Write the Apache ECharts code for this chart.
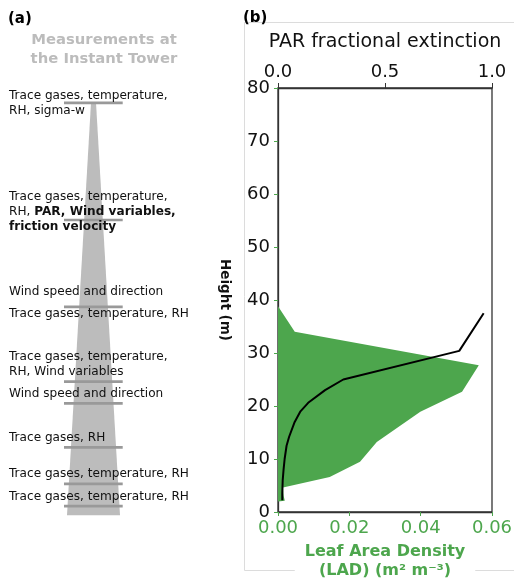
<!DOCTYPE html>
<html>
<head>
<meta charset="utf-8">
<script src="https://cdn.jsdelivr.net/npm/echarts@6/dist/echarts.min.js"></script>
<style>
html,body{margin:0;padding:0;background:#fff;}
#c{width:514px;height:581px;}
</style>
</head>
<body>
<div id="c"></div>
<script>
// ---- data ----
// LAD profile (leaf area density, m2 m-3) vs height (m), traced from top to bottom
const ladHeights = [38.8, 34.0, 27.7, 22.7, 18.9, 13.2, 9.5, 6.6, 4.6, 3.0, 2.1, 2.0];
const ladValues  = [0, 0.0047, 0.0563, 0.0516, 0.0399, 0.0277, 0.0230, 0.0145, 0.0014, 0.0016, 0.0019, 0];
// PAR fractional extinction vs height (m)
const parHeights = [2.2, 3.5, 6, 8, 10, 12.5, 14.2, 17, 19, 20.6, 23, 25, 30.4, 37.5];
const parValues  = [0.02, 0.02, 0.022, 0.026, 0.031, 0.04, 0.052, 0.078, 0.105, 0.141, 0.22, 0.305, 0.847, 0.961];
// tower measurement levels (m)
const levelHeights = [77.2, 55.1, 38.7, 24.6, 20.5, 12.2, 5.3, 1.1];
const towerTop = 77.2, towerBase = -0.6;
// labels of the tower panel and the height (m) of their first line
const labelHeights = [78.5, 59.4, 41.5, 37.3, 29.2, 22.3, 14.0, 7.2, 2.8];
const labelTexts = [
  '{n|Trace gases, temperature,}\n{n|RH, sigma-w}',
  '{n|Trace gases, temperature,}\n{n|RH, }{b|PAR, Wind variables,}\n{b|friction velocity}',
  '{n|Wind speed and direction}',
  '{n|Trace gases, temperature, RH}',
  '{n|Trace gases, temperature,}\n{n|RH, Wind variables}',
  '{n|Wind speed and direction}',
  '{n|Trace gases, RH}',
  '{n|Trace gases, temperature, RH}',
  '{n|Trace gases, temperature, RH}'
];
const ladTicks = [0, 0.02, 0.04, 0.06];
const parTicks = [0, 0.5, 1.0];

// ---- style ----
const FONT = 'DejaVu Sans';
const GREEN = '#4da64d';
const SPINE = '#333';

const chart = echarts.init(document.getElementById('c'), null, {renderer: 'canvas'});

const option = {
  backgroundColor: '#fff',
  animation: false,
  textStyle: {fontFamily: FONT},
  graphic: [
    {type: 'rect', z: -10, shape: {x: 244.5, y: 22.5, width: 300, height: 548}, style: {fill: null, stroke: '#dcdcdc', lineWidth: 1}},
    {type: 'text', left: 8, top: 12, style: {text: '(a)', font: 'bold 15px ' + FONT, fill: '#000'}},
    {type: 'text', left: 243, top: 11, z: 5, style: {text: '(b)', font: 'bold 15px ' + FONT, fill: '#000'}},
    {type: 'text', x: 104, y: 31, style: {text: 'Measurements at\nthe Instant Tower', font: 'bold 14.8px ' + FONT, fill: '#bcbcbc', align: 'center', verticalAlign: 'top', lineHeight: 19}}
  ],
  grid: [
    {left: 0, top: 88, width: 240, height: 424, outerBoundsMode: 'none', containLabel: false},
    {left: 278, top: 88, width: 214, height: 424, outerBoundsMode: 'none', containLabel: false,
      show: true, borderColor: SPINE, borderWidth: 1.3, backgroundColor: 'transparent'}
  ],
  xAxis: [
    {gridIndex: 0, type: 'value', min: 0, max: 240, show: false},
    {gridIndex: 1, type: 'value', position: 'bottom', min: 0, max: 0.06, interval: 0.02,
      axisLine: {show: true, lineStyle: {color: SPINE, width: 1.3}},
      axisTick: {show: true, length: 4, lineStyle: {color: GREEN}},
      axisLabel: {color: GREEN, fontSize: 18, margin: 7, fontFamily: FONT,
        formatter: v => ladTicks.indexOf(+v.toFixed(2)) >= 0 ? v.toFixed(2) : ''},
      splitLine: {show: false},
      name: 'Leaf Area Density\n(LAD) (m\u00B2 m\u207B\u00B3)', nameLocation: 'middle', nameGap: 30,
      nameTextStyle: {color: GREEN, fontWeight: 'bold', fontSize: 16, lineHeight: 19, fontFamily: FONT,
        backgroundColor: '#fff', padding: [0, 10, 6, 10]}
    },
    {gridIndex: 1, type: 'value', position: 'top', min: 0, max: 1, interval: 0.5,
      axisLine: {show: true, lineStyle: {color: SPINE, width: 1.3}},
      axisTick: {show: true, length: 5, lineStyle: {color: SPINE}},
      axisLabel: {color: '#111', fontSize: 18, margin: 7, fontFamily: FONT,
        formatter: v => parTicks.indexOf(+v.toFixed(1)) >= 0 ? v.toFixed(1) : ''},
      splitLine: {show: false},
      name: 'PAR fractional extinction', nameLocation: 'middle', nameGap: 36,
      nameTextStyle: {color: '#111', fontSize: 19, fontFamily: FONT}
    }
  ],
  yAxis: [
    {gridIndex: 0, type: 'value', min: 0, max: 80, show: false},
    {gridIndex: 1, type: 'value', min: 0, max: 80, interval: 10,
      axisLine: {show: true, lineStyle: {color: SPINE, width: 1.3}},
      axisTick: {show: true, length: 4, lineStyle: {color: GREEN}},
      axisLabel: {color: '#111', fontSize: 18, margin: 8, fontFamily: FONT},
      splitLine: {show: false},
      name: 'Height (m)', nameLocation: 'middle', nameRotate: -90, nameGap: 47,
      nameTextStyle: {color: '#111', fontWeight: 'bold', fontSize: 13.5, fontFamily: FONT}
    }
  ],
  series: [
    // tower body
    {type: 'custom', xAxisIndex: 0, yAxisIndex: 0, z: 1,
      data: [[towerTop, towerBase]],
      renderItem: (params, api) => {
        const top = api.value(0), base = api.value(1);
        const p1 = api.coord([91, top]), p2 = api.coord([96, top]);
        const p3 = api.coord([120, base]), p4 = api.coord([67, base]);
        return {type: 'polygon', shape: {points: [p1, p2, p3, p4]}, style: {fill: '#bcbcbc'}};
      }
    },
    // measurement level bars
    {type: 'custom', xAxisIndex: 0, yAxisIndex: 0, z: 2,
      data: levelHeights.map(h => [64, h]),
      renderItem: (params, api) => {
        const a = api.coord([64, api.value(1)]);
        const b = api.coord([122.7, api.value(1)]);
        return {type: 'rect', shape: {x: a[0], y: a[1] - 1.3, width: b[0] - a[0], height: 2.6}, style: {fill: '#999'}};
      }
    },
    // labels
    {type: 'custom', xAxisIndex: 0, yAxisIndex: 0, z: 3,
      data: labelHeights.map(h => [9, h]),
      renderItem: (params, api) => {
        const p = api.coord([api.value(0), api.value(1)]);
        const base = {fontFamily: FONT, fontSize: 12.1, lineHeight: 15, fill: '#111', fontWeight: 'normal'};
        return {type: 'text', x: p[0], y: p[1] - 7.5,
          style: {text: labelTexts[params.dataIndex], align: 'left', verticalAlign: 'top',
            fontFamily: FONT, fontSize: 12.1, lineHeight: 15, fill: '#111',
            rich: {n: base, b: Object.assign({}, base, {fontWeight: 'bold'})}}};
      }
    },
    // LAD filled profile
    {type: 'custom', xAxisIndex: 1, yAxisIndex: 1, z: 2,
      data: [[0, 0]],
      renderItem: (params, api) => {
        const pts = ladValues.map((v, i) => api.coord([v, ladHeights[i]]));
        return {type: 'polygon', shape: {points: pts}, style: {fill: GREEN}};
      }
    },
    // PAR fractional extinction line
    {type: 'line', xAxisIndex: 2, yAxisIndex: 1, z: 5,
      data: parValues.map((v, i) => [v, parHeights[i]]),
      showSymbol: false, symbol: 'none', smooth: false,
      lineStyle: {color: '#000', width: 2}
    }
  ]
};
chart.setOption(option);
</script>
</body>
</html>
